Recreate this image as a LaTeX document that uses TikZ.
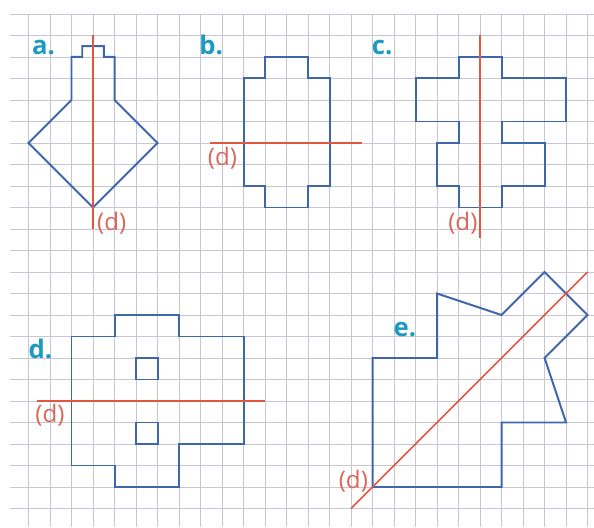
\documentclass[tikz,border=0pt]{standalone}
\usepackage{fontspec}
\setmainfont{Open Sans}
\definecolor{gridgray}{HTML}{C6C6D4}
\definecolor{figblue}{HTML}{3E66AA}
\definecolor{axisred}{HTML}{E2553F}
\definecolor{letterteal}{HTML}{1E9AC2}
\definecolor{dred}{HTML}{D8685A}
\tikzset{
  gridline/.style={gridgray, line width=0.6pt},
  fig/.style={figblue, line width=1.3pt, line join=miter},
  axis/.style={axisred, line width=1pt},
  letter/.style={letterteal, font=\bfseries\fontsize{17}{17}\selectfont, inner sep=0pt, anchor=base west},
  dname/.style={dred, font=\fontsize{16}{16}\selectfont, inner sep=0pt},
}
\begin{document}
\begin{tikzpicture}[x=0.5cm,y=0.5cm]
\def\figa{(3,19) -- (3,21) -- (3.5,21) -- (3.5,21.5) -- (4.5,21.5) -- (4.5,21) -- (5,21) -- (5,19) -- (7,17) -- (4,14) -- (1,17) -- cycle}
\def\figb{(12,21) -- (14,21) -- (14,20) -- (15,20) -- (15,15) -- (14,15) -- (14,14) -- (12,14) -- (12,15) -- (11,15) -- (11,20) -- (12,20) -- cycle}
\def\figc{(21,21) -- (23,21) -- (23,20) -- (26,20) -- (26,18) -- (23,18) -- (23,17) -- (25,17) -- (25,15) -- (23,15) -- (23,14) -- (21,14) -- (21,15) -- (20,15) -- (20,17) -- (21,17) -- (21,18) -- (19,18) -- (19,20) -- (21,20) -- cycle}
\def\figd{(5,9) -- (8,9) -- (8,8) -- (11,8) -- (11,3) -- (8,3) -- (8,1) -- (5,1) -- (5,2) -- (3,2) -- (3,8) -- (5,8) -- cycle}
\def\fige{(17,1) -- (17,7) -- (20,7) -- (20,10) -- (23,9) -- (25,11) -- (27,9) -- (25,7) -- (26,4) -- (23,4) -- (23,1) -- cycle}

\useasboundingbox (-0.326,-0.86) rectangle (27.3,23.65);

% squared paper
\foreach \y in {0,...,23} \draw[gridline] (0.14,\y) -- (27.3,\y);
\foreach \x in {1,...,27} \draw[gridline] (\x,-0.86) -- (\x,23);

% the five figures
\draw[fig] \figa;
\draw[fig] \figb;
\draw[fig] \figc;
\draw[fig] \figd;
\draw[fig] (6,6) rectangle (7,7);
\draw[fig] (6,3) rectangle (7,4);
\draw[fig] \fige;

% the lines (d)
\draw[axis] (4,22) -- (4,13);
\draw[axis] (9.45,17) -- (16.5,17);
\draw[axis] (22,22) -- (22,12.6);
\draw[axis] (1.4,5) -- (12,5);
\draw[axis] (16,0) -- (27,11);

\node[letter] (la) at (1.15,21.1) {a.};
\node[letter] (lb) at (8.93,21.1) {b.};
\node[letter] (lc) at (16.96,21.1) {c.};
\node[letter] (ld) at (0.99,7) {d.};
\node[letter] (le) at (17.97,8) {e.};

\node[dname] (da) at (4.87,13.26) {(d)};
\node[dname] (db) at (10.02,16.28) {(d)};
\node[dname] (dc) at (21.2,13.27) {(d)};
\node[dname] (dd) at (2.0,4.35) {(d)};
\node[dname] (de) at (16.11,1.29) {(d)};
\end{tikzpicture}
\end{document}
